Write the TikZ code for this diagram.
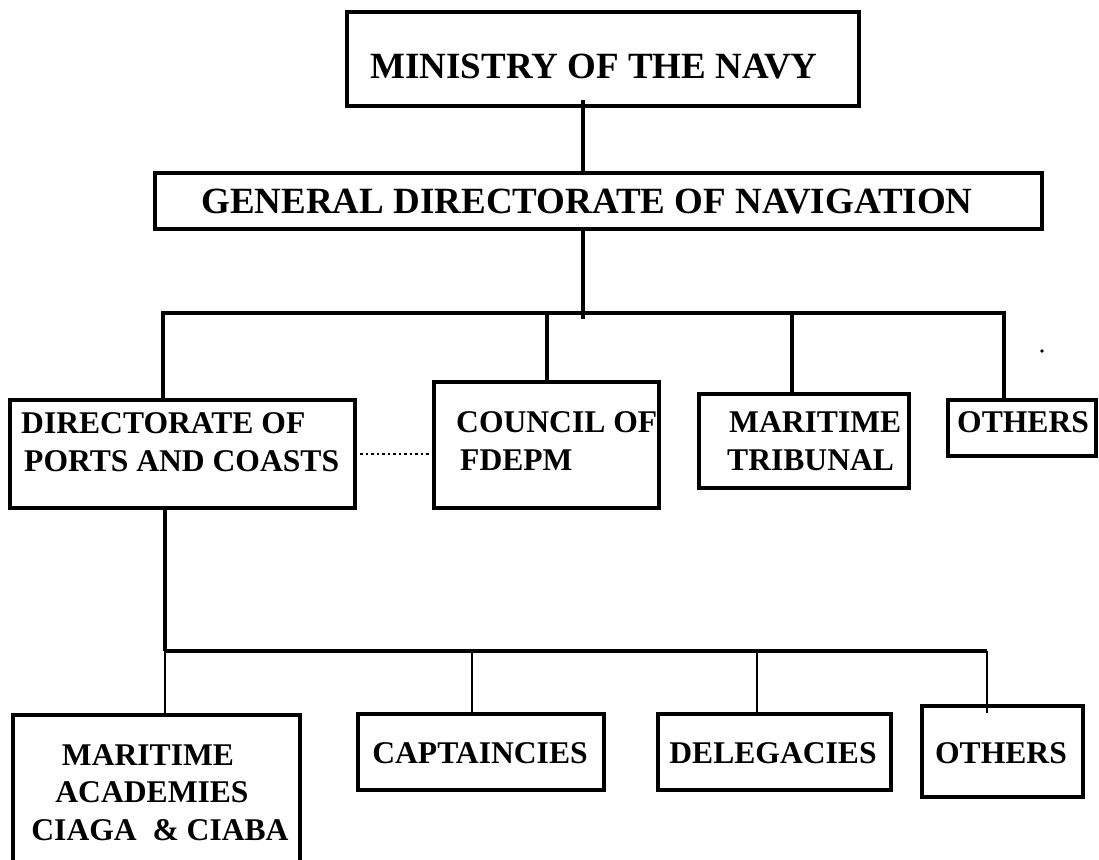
\documentclass[tikz,border=0pt]{standalone}
\usepackage{fontspec}
\setmainfont{Liberation Serif}
\begin{document}
\begin{tikzpicture}[x=1pt,y=-1pt,
  box/.style={draw,line width=3.5pt,inner sep=0pt,outer sep=0pt},
  conn/.style={line width=4pt},
  thinconn/.style={line width=1.3pt},
  dotline/.style={line width=1.6pt,dash pattern=on 2.5pt off 3pt},
  big/.style={inner sep=0pt,font=\bfseries\fontsize{37}{44}\selectfont},
  lbl/.style={inner sep=0pt,font=\bfseries\fontsize{31.6}{38}\selectfont}]
\fill[white] (0,0) rectangle (1099,859);
\clip (0,0) rectangle (1099,859);
% boxes
\node[box,minimum width=512pt,minimum height=94pt] (min) at (603,59) {};
\node[box,minimum width=887pt,minimum height=56pt] (gdn) at (598.5,201) {};
\node[box,minimum width=345pt,minimum height=108pt] (dir) at (182.5,454) {};
\node[box,minimum width=225pt,minimum height=126pt] (council) at (546.5,445) {};
\node[box,minimum width=210pt,minimum height=94pt] (trib) at (804,441) {};
\node[box,minimum width=148pt,minimum height=56pt] (oth1) at (1022,428) {};
\node[box,minimum width=287pt,minimum height=165pt] (acad) at (156.5,797.5) {};
\node[box,minimum width=246pt,minimum height=76pt] (capt) at (481,752) {};
\node[box,minimum width=233pt,minimum height=76pt] (deleg) at (774.5,752) {};
\node[box,minimum width=161pt,minimum height=91pt] (oth2) at (1002.5,751.5) {};
% texts
\node[big,anchor=base] (tmin) at (594,78) {MINISTRY OF THE NAVY};
\node[big,anchor=base] (tgdn) at (587,213) {GENERAL DIRECTORATE OF NAVIGATION};
\node[lbl,anchor=base west] (tdir1) at (21,433) {DIRECTORATE OF};
\node[lbl,anchor=base west] (tdir2) at (24,471) {PORTS AND COASTS};
\node[lbl,anchor=base west] (tcou1) at (456,432) {COUNCIL OF};
\node[lbl,anchor=base west] (tcou2) at (460,470) {FDEPM};
\node[lbl,anchor=base west] (ttri1) at (729,432) {MARITIME};
\node[lbl,anchor=base west] (ttri2) at (727,470) {TRIBUNAL};
\node[lbl,anchor=base west] (toth1) at (957,432) {OTHERS};
\node[lbl,anchor=base] (taca1) at (148,765) {MARITIME};
\node[lbl,anchor=base] (taca2) at (152,802) {ACADEMIES};
\node[lbl,anchor=base] (taca3) at (160,840) {CIAGA\ \ \& CIABA};
\node[lbl,anchor=base] (tcap) at (480,763) {CAPTAINCIES};
\node[lbl,anchor=base] (tdel) at (773,763) {DELEGACIES};
\node[lbl,anchor=base] (toth2) at (1001,763) {OTHERS};
% junction coordinates
\coordinate (j0) at (583,313);
\coordinate (busL) at (163,313);
\coordinate (busR) at (1004,313);
\coordinate (jT) at (792,313);
\coordinate (lbL) at (165,651);
\coordinate (lbR) at (987,651);
\coordinate (jC) at (472,651);
\coordinate (jD) at (757,651);
% upper connectors
\draw[conn] ([yshift=6pt]j0 |- min.south) -- (j0 |- gdn.north);
\draw[conn] (j0 |- gdn.south) -- ([yshift=-6pt]j0);
\draw[conn] (busL |- dir.north) -- (busL) -- (busR) -- (busR |- oth1.north);
\draw[conn] (council.north |- busL) -- (council.north);
\draw[conn] (jT) -- (jT |- trib.north);
% lower connectors
\draw[conn] (lbL |- dir.south) -- (lbL);
\draw[line width=3.5pt] (lbL) -- (lbR);
\draw[thinconn] (lbL) -- (lbL |- acad.north);
\draw[thinconn] (jC) -- (jC |- capt.north);
\draw[thinconn] (jD) -- (jD |- deleg.north);
\draw[thinconn] (lbR) -- ([yshift=-7pt]lbR |- oth2.north);
% dotted link
\draw[dotline,shorten <=5pt,shorten >=3pt] (dir.east) -- (dir.east -| council.west);
% stray dot
\fill (1042,351) circle (1.8pt);
\end{tikzpicture}
\end{document}
